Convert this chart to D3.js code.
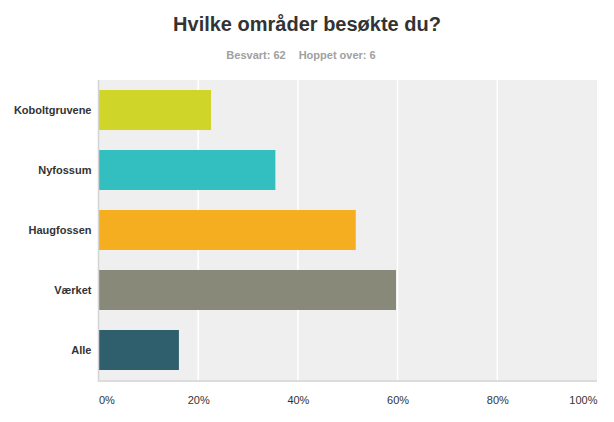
<!DOCTYPE html>
<html>
<head>
<meta charset="utf-8">
<script src="https://cdn.jsdelivr.net/npm/d3@7"></script>
<style>
	body { margin: 0; background: #fff; }
	svg { font-family: "Liberation Sans", Arial, sans-serif; }
</style>
</head>
<body>
<svg id="chart" width="614" height="422"></svg>
<script>
const categories = ["Koboltgruvene", "Nyfossum", "Haugfossen", "Værket", "Alle"];
const percents = [22.58, 35.48, 51.61, 59.68, 16.13];
const barColors = ["#d0d629", "#33bec0", "#f6ae21", "#898979", "#2f5f6c"];
const tickValues = [0, 20, 40, 60, 80, 100];
const title = "Hvilke områder besøkte du?";
const subtitle = ["Besvart: 62", "Hoppet over: 6"];

const width = 614;
const height = 422;
const margin = { top: 80, right: 17, bottom: 42, left: 98.5 };
const plotW = width - margin.left - margin.right;
const plotH = height - margin.top - margin.bottom;

const svg = d3.select("#chart");

svg.append("text")
	.attr("x", 307)
	.attr("y", 31)
	.attr("text-anchor", "middle")
	.attr("font-size", 20)
	.attr("font-weight", "bold")
	.attr("fill", "#333")
	.text(title);

const sub = svg.append("text")
	.attr("x", 301)
	.attr("y", 59)
	.attr("text-anchor", "middle")
	.attr("font-size", 11)
	.attr("font-weight", "bold")
	.attr("fill", "#a0a0a0");
sub.selectAll("tspan")
	.data(subtitle)
	.join("tspan")
	.attr("dx", (d, i) => (i === 0 ? 0 : 13))
	.text((d) => d);

const xScale = d3.scaleLinear([0, 100], [0, plotW]);
const yScale = d3.scaleBand(categories, [0, plotH]).paddingInner(1 / 3).paddingOuter(1 / 6);

const plot = svg.append("g").attr("transform", `translate(${margin.left},${margin.top})`);

plot.append("rect")
	.attr("width", plotW)
	.attr("height", plotH)
	.attr("fill", "#efefef");

// vertical gridlines
plot.selectAll("line.grid")
	.data(tickValues.slice(1, -1))
	.join("line")
	.attr("class", "grid")
	.attr("x1", (d) => xScale(d))
	.attr("x2", (d) => xScale(d))
	.attr("y1", 0)
	.attr("y2", plotH)
	.attr("stroke", "#fff")
	.attr("stroke-width", 1.5);

plot.selectAll("rect.bar")
	.data(percents)
	.join("rect")
	.attr("class", "bar")
	.attr("x", 0)
	.attr("y", (d, i) => yScale(categories[i]))
	.attr("width", (d) => xScale(d))
	.attr("height", yScale.bandwidth())
	.attr("fill", (d, i) => barColors[i]);

// axis lines
plot.append("line")
	.attr("x1", 0).attr("x2", 0)
	.attr("y1", 0).attr("y2", plotH + 2)
	.attr("stroke", "#d4d4d4")
	.attr("stroke-width", 1.5);
plot.append("line")
	.attr("x1", 0).attr("x2", plotW)
	.attr("y1", plotH + 1).attr("y2", plotH + 1)
	.attr("stroke", "#dcdcdc")
	.attr("stroke-width", 2);

const yAxis = plot.append("g")
	.call(d3.axisLeft(yScale).tickSize(0).tickPadding(7));
yAxis.select(".domain").remove();
yAxis.selectAll("text")
	.attr("font-family", "Liberation Sans, Arial, sans-serif")
	.attr("font-size", 11)
	.attr("font-weight", "bold")
	.attr("fill", "#333");

const xAxis = plot.append("g")
	.attr("transform", `translate(0,${plotH})`)
	.call(d3.axisBottom(xScale).tickValues(tickValues).tickSize(0).tickPadding(16).tickFormat((d) => d + "%"));
xAxis.select(".domain").remove();
xAxis.selectAll("text")
	.attr("font-family", "Liberation Sans, Arial, sans-serif")
	.attr("font-size", 11)
	.attr("fill", "#333")
	.attr("text-anchor", (d) => (d === 0 ? "start" : d === 100 ? "end" : "middle"));
</script>
</body>
</html>
